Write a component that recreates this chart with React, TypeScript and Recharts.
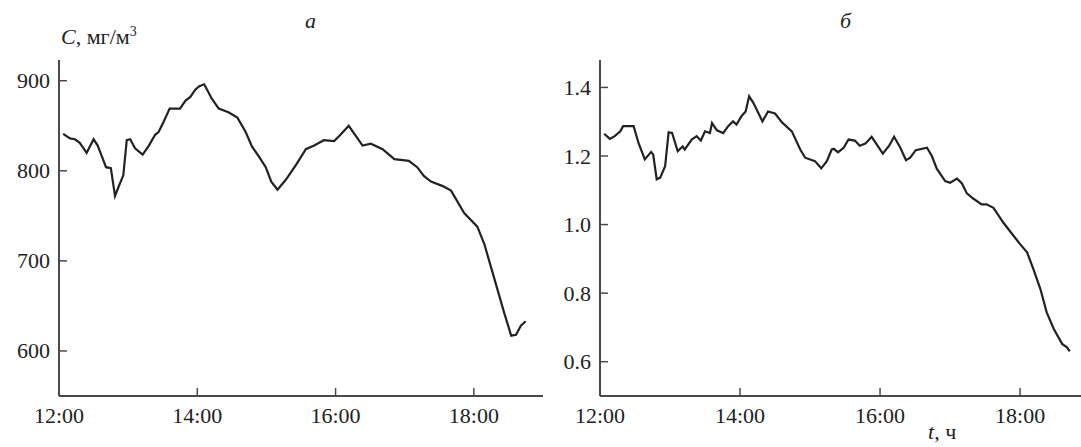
import { Line, LineChart, XAxis, YAxis } from "recharts";

const ink = "#222";
const axisInk = "#4a4a4a";
const font = "'Liberation Serif', 'DejaVu Serif', serif";

// panel a: concentration, mg/m3
const timeA = [
  12.06, 12.16, 12.23, 12.3, 12.4, 12.5, 12.56, 12.62, 12.68, 12.75, 12.81, 12.86, 12.93, 12.98,
  13.03, 13.1, 13.21, 13.3, 13.39, 13.44, 13.51, 13.6, 13.75, 13.83, 13.9, 13.97, 14.03, 14.1,
  14.21, 14.31, 14.45, 14.58, 14.7, 14.79, 14.89, 14.99, 15.07, 15.16, 15.28, 15.44, 15.57,
  15.69, 15.83, 15.98, 16.07, 16.19, 16.29, 16.39, 16.51, 16.68, 16.85, 17.06, 17.18, 17.28,
  17.38, 17.55, 17.67, 17.86, 18.05, 18.15, 18.29, 18.44, 18.54, 18.61, 18.68, 18.75,
];
const valueA = [
  841, 836, 835, 831, 820, 835, 828, 816, 804, 803, 772, 782, 795, 834,
  835, 825, 818, 828, 840, 843, 854, 869, 869, 878, 882, 890, 894, 896,
  880, 869, 865, 859, 843, 827, 816, 804, 788, 779, 790, 808, 824,
  828, 834, 833, 840, 850, 839, 828, 830, 824, 813, 811, 804, 794,
  788, 783, 778, 753, 738, 719, 682, 642, 617, 618, 628, 633,
];

// panel б
const timeB = [
  12.06, 12.14, 12.21, 12.29, 12.33, 12.4, 12.48, 12.55, 12.64, 12.73, 12.76, 12.81, 12.86,
  12.93, 12.98, 13.03, 13.11, 13.18, 13.21, 13.31, 13.38, 13.44, 13.5, 13.57, 13.6, 13.67,
  13.76, 13.83, 13.9, 13.95, 14.02, 14.08, 14.13, 14.19, 14.26, 14.32, 14.4, 14.5, 14.6,
  14.74, 14.86, 14.93, 15.07, 15.16, 15.24, 15.31, 15.34, 15.4, 15.48, 15.55, 15.64, 15.71,
  15.79, 15.88, 16.04, 16.13, 16.2, 16.29, 16.37, 16.43, 16.51, 16.67, 16.74, 16.81, 16.93,
  17.0, 17.1, 17.17, 17.24, 17.33, 17.45, 17.52, 17.62, 17.76, 17.87, 18.0, 18.1, 18.19,
  18.29, 18.38, 18.48, 18.6, 18.67, 18.71,
];
const valueB = [
  1.265, 1.25, 1.258, 1.272, 1.287, 1.287, 1.287, 1.238, 1.19, 1.212, 1.204, 1.132, 1.137,
  1.17, 1.269, 1.267, 1.214, 1.228, 1.219, 1.248, 1.258, 1.245, 1.272, 1.267, 1.296, 1.275,
  1.267, 1.287, 1.301, 1.292, 1.316, 1.33, 1.374, 1.355, 1.326, 1.301, 1.33, 1.324, 1.298,
  1.272, 1.219, 1.195, 1.185, 1.164, 1.185, 1.219, 1.221, 1.211, 1.224, 1.248, 1.245, 1.23,
  1.236, 1.256, 1.207, 1.23, 1.256, 1.224, 1.188, 1.195, 1.217, 1.224, 1.2, 1.163, 1.127,
  1.122, 1.134, 1.12, 1.091, 1.076, 1.059, 1.059, 1.049, 1.006, 0.977, 0.943, 0.919, 0.87,
  0.812, 0.744, 0.696, 0.652, 0.642, 0.63,
];

const hourTicks = [12, 14, 16, 18];
const ticksA = [600, 700, 800, 900];
const ticksB = [0.6, 0.8, 1.0, 1.2, 1.4];

const dataA = timeA.map((t, i) => ({ t, v: valueA[i] }));
const dataB = timeB.map((t, i) => ({ t, v: valueB[i] }));

function YTick({ x, y, payload, digits }: any) {
  const label = digits ? Number(payload.value).toFixed(digits) : String(payload.value);
  return (
    <g>
      <line x1={x} x2={x + 8} y1={y} y2={y} stroke={axisInk} strokeWidth={1.5} />
      <text x={x - 9} y={y} textAnchor="end" dominantBaseline="central" fill={ink} style={{ fontFamily: font, fontSize: 22 }}>
        {label}
      </text>
    </g>
  );
}

function XTick({ x, y, payload }: any) {
  return (
    <g>
      <line x1={x} x2={x} y1={y} y2={y - 8} stroke={axisInk} strokeWidth={1.5} />
      <text x={x} y={y + 27} textAnchor="middle" fill={ink} style={{ fontFamily: font, fontSize: 22 }}>
        {`${payload.value}:00`}
      </text>
    </g>
  );
}

function Panel({ data, width, yWidth, xMax, yDomain, yTicks, digits, right }: any) {
  return (
    <LineChart width={width} height={447} data={data} margin={{ top: 60, right, bottom: 0, left: 0 }}>
      <XAxis
        type="number"
        dataKey="t"
        domain={[12, xMax]}
        ticks={hourTicks}
        interval={0}
        height={51}
        tickSize={0}
        tickMargin={0}
        tickLine={false}
        axisLine={{ stroke: axisInk, strokeWidth: 2 }}
        tick={<XTick />}
        allowDataOverflow
      />
      <YAxis
        type="number"
        width={yWidth}
        domain={yDomain}
        ticks={yTicks}
        interval={0}
        tickSize={0}
        tickMargin={0}
        tickLine={false}
        axisLine={{ stroke: axisInk, strokeWidth: 2 }}
        tick={<YTick digits={digits} />}
        allowDataOverflow
      />
      <Line type="linear" dataKey="v" stroke={ink} strokeWidth={2.2} dot={false} isAnimationActive={false} />
    </LineChart>
  );
}

export default function App() {
  return (
    <div style={{ position: "absolute", left: 0, top: 0, width: 1081, height: 447, background: "#fff", fontFamily: font, color: ink, overflow: "hidden" }}>
      <div style={{ position: "absolute", left: 0, top: 0 }}>
        <Panel data={dataA} width={560} yWidth={59} xMax={19} yDomain={[550, 923]} yTicks={ticksA} digits={0} right={17} />
      </div>
      <div style={{ position: "absolute", left: 545, top: 0 }}>
        <Panel data={dataB} width={536} yWidth={55} xMax={18.87} yDomain={[0.5, 1.48]} yTicks={ticksB} digits={1} right={0} />
      </div>
      <div style={{ position: "absolute", left: 61, top: 24, fontSize: 22, lineHeight: "26px", whiteSpace: "nowrap" }}>
        <i>C</i>, мг/м<sup style={{ fontSize: 14, verticalAlign: "8px", lineHeight: 0 }}>3</sup>
      </div>
      <div style={{ position: "absolute", left: 305, top: 8, fontSize: 22, fontStyle: "italic", lineHeight: "26px" }}>а</div>
      <div style={{ position: "absolute", left: 840, top: 8, fontSize: 22, fontStyle: "italic", lineHeight: "26px" }}>б</div>
      <div style={{ position: "absolute", left: 928, top: 419, fontSize: 22, lineHeight: "26px", whiteSpace: "nowrap" }}>
        <i>t</i>, ч
      </div>
    </div>
  );
}
